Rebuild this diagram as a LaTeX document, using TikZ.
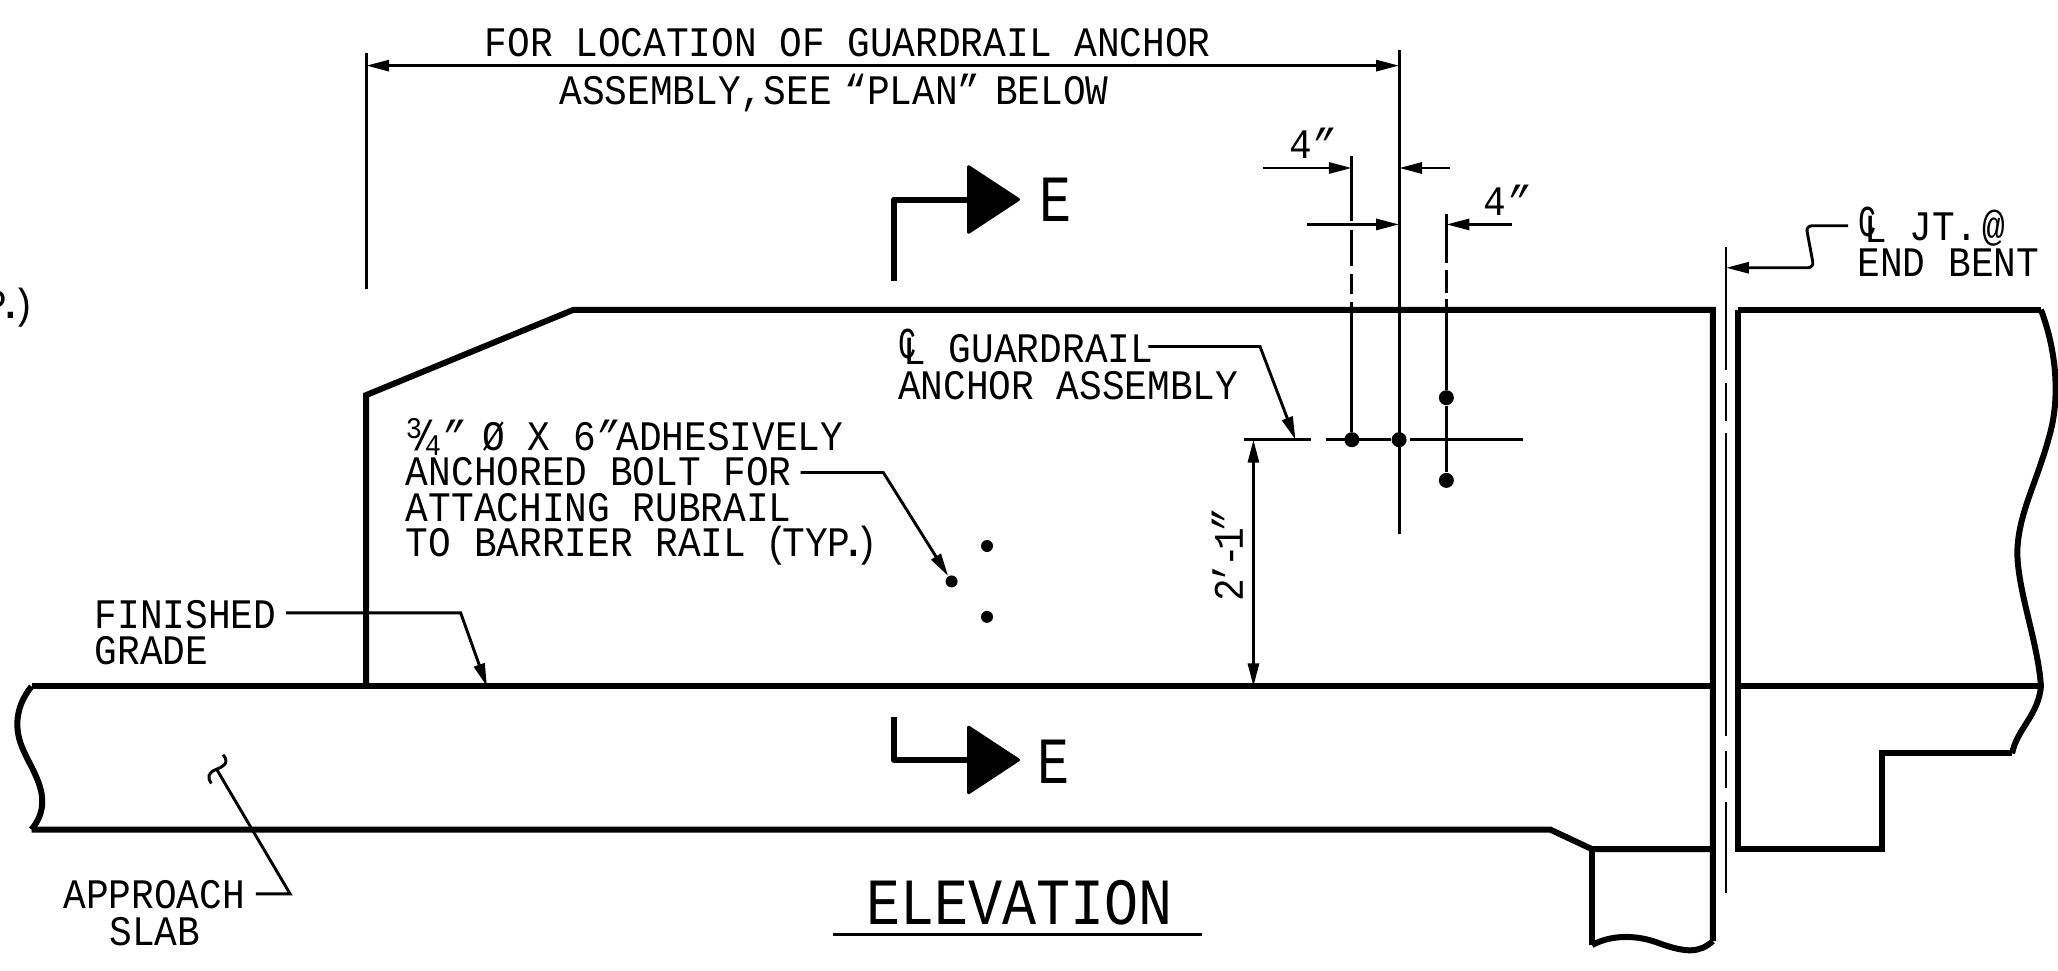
\documentclass[tikz,border=0pt]{standalone}
\usepackage{fontspec}
\usepackage{graphicx}
\setmainfont{Liberation Mono}[FakeStretch=0.9]
\usetikzlibrary{arrows.meta}
\newcommand{\CLmark}{\makebox[0pt][l]{\raisebox{2pt}{\scalebox{0.8}[1.05]{C}}}\raisebox{-1pt}{\kern2.7pt\scalebox{1}[0.95]{L}}}
\newcommand{\threequarter}{\raisebox{6pt}{\fontsize{15}{15}\selectfont 3}\kern-5pt/\kern-5pt\raisebox{-2.5pt}{\fontsize{15}{15}\selectfont 4}}
\newcommand{\typtail}{P\kern-4pt\textbf{.}\kern-5pt)}
\tikzset{
  heavy/.style={line width=3pt,line join=miter},
  thin line/.style={line width=1.45pt},
  tipped/.style={thin line,-{Triangle[length=11.5pt,width=5.5pt]}},
  label/.style={inner sep=0pt,anchor=base west,font=\fontsize{21}{21}\selectfont},
  biglabel/.style={inner sep=0pt,anchor=base west,font=\fontsize{33}{33}\selectfont},
  bolt/.style={circle,fill=black,inner sep=0pt,minimum size=#1},
}
\begin{document}
\begin{tikzpicture}[x=0.65625pt,y=-0.65625pt]
\useasboundingbox (0,0) rectangle (1568,739.8);
% --- outlines
\draw[heavy] (279,523) -- (279,301) -- (437,236) -- (1305,236) -- (1305,717);
\draw[heavy] (24,523) -- (1305,523);
\draw[heavy] (1324,523) -- (1555,523);
\draw[heavy] (1324,236) -- (1555,236);
\draw[heavy] (1324,236) -- (1324,647) -- (1434,647) -- (1434,574) -- (1533,574);
\draw[heavy] (24,632) -- (1181,632) -- (1213,647) -- (1305,647);
\draw[heavy] (1213,647) -- (1213,720);
\draw[heavy] (1213,720) .. controls (1230,711) and (1250,713) .. (1265,719) .. controls (1285,726) and (1295,726) .. (1305,717);
\draw[heavy] (24,523) .. controls (12,538) and (10,555) .. (18,572) .. controls (26,590) and (42,610) .. (24,632);
\draw[heavy] (1555,236) .. controls (1566,265) and (1570,300) .. (1562,330) .. controls (1552,368) and (1538,390) .. (1537,420) .. controls (1537,450) and (1553,490) .. (1555,523) .. controls (1553,545) and (1537,555) .. (1533,574);
% --- centre line of the joint
\draw[thin line] (1315,188) -- (1315,282) (1315,292) -- (1315,321) (1315,330) -- (1315,561) (1315,572) -- (1315,600) (1315,611) -- (1315,680);
% --- section marks
\draw[line width=3pt,line join=round] (681,214) -- (681,152) -- (745,152);
\draw[line width=3pt,line join=round] (681,546) -- (681,579) -- (745,579);
\fill[draw=black,line width=1.5pt,line join=round] (738,127) -- (776,152) -- (738,177) -- cycle;
\fill[draw=black,line width=1.5pt,line join=round] (738,554) -- (776,579) -- (738,604) -- cycle;
\node[biglabel] (eTop) at (792,169) {\scalebox{0.9}[1]{E}};
\node[biglabel] (eBot) at (790,597) {\scalebox{0.9}[1]{E}};
% --- guardrail anchor
\node[bolt=7.5pt] (d1) at (1030,335) {};
\node[bolt=7.5pt] (d2) at (1066,335) {};
\node[bolt=7.5pt] (d3) at (1102,303) {};
\node[bolt=7.5pt] (d4) at (1102,366) {};
\draw[thin line] (1066,38) -- (1066,407);
\draw[thin line] (1030,119) -- (1030,168) (1030,175) -- (1030,203) (1030,209) -- (1030,224) (1030,230) -- (d1);
\draw[thin line] (1102,163) -- (1102,200) (1102,206) -- (1102,223) (1102,228) -- (d3) -- (d4);
\draw[thin line] (948,335) -- (999,335) (1010,335) -- (d2) (1074,335) -- (1160,335);
% --- top dimension
\coordinate (extL) at (279,50);
\coordinate (extR) at (1066,50);
\draw[thin line] (279,40) -- (279,220);
\draw[tipped,{Triangle[length=11.5pt,width=5.5pt]}-{Triangle[length=11.5pt,width=5.5pt]}] (extL) -- (extR);
\node[label] (t1) at (369,43) {FOR LOCATION OF GUARDRAIL ANCHOR};
\node[label] (t2) at (426,79.5) {ASSEMBLY,SEE\kern-5pt\ ``PLAN''\kern-4pt\ BELOW};
% --- 4 inch dimensions
\draw[tipped] (962,128) -- (1030,128);
\draw[tipped] (1105,128) -- (1066,128);
\draw[tipped] (996,171) -- (1066,171);
\draw[tipped] (1152,171) -- (1102,171);
\node[label] (four1) at (982,121) {4\itshape"};
\node[label] (four2) at (1130,164) {4\itshape"};
% --- joint leader
\node[label] (jt1) at (1416,183) {\CLmark{} JT.\kern-9pt\ @};
\node[label] (jt2) at (1415,211) {END BENT};
\coordinate (jtTip) at (1315,204);
\draw[tipped,rounded corners=3pt] (1408,172) -- (1376,172) -- (1382,204) -- (jtTip);
% --- anchor label
\node[label] (cl1) at (684,276) {\CLmark{} GUARDRAIL};
\node[label] (cl2) at (684,304) {ANCHOR ASSEMBLY};
\coordinate (clTip) at (987,335);
\draw[tipped] (875,264) -- (960,264) -- (clTip);
% --- bolts
\node[bolt=6pt] (b1) at (752,416) {};
\node[bolt=6pt] (b2) at (725,443) {};
\node[bolt=6pt] (b3) at (752,470) {};
\node[label] (a1) at (309,343) {\threequarter{\itshape"}\kern-2pt\ Ø X 6{\itshape"}\kern-1pt ADHESIVELY};
\node[label] (a2) at (309,370) {ANCHORED BOLT FOR};
\node[label] (a3) at (309,397) {ATTACHING RUBRAIL};
\node[label] (a4) at (309,424) {TO BARRIER RAIL\kern-1.5pt\ (\kern-3pt TY\typtail};
\draw[tipped] (610,360) -- (673,360) -- (b2);
% --- finished grade
\node[label] (f1) at (72,479) {FINISHED};
\node[label] (f2) at (72,506) {GRADE};
\coordinate (fTip) at (371,523);
\draw[tipped] (218,467) -- (351,467) -- (fTip);
% --- approach slab
\node[label] (s1) at (48,692) {APPROACH};
\node[label] (s2) at (83,720) {SLAB};
\coordinate (sEnd) at (165,586);
\draw[thin line] (195,681) -- (221,681) -- (sEnd);
\draw[thin line] (170,575) .. controls (176,582) and (168,585) .. (165,586) .. controls (158,589) and (158,592) .. (161,597);
% --- two foot dimension
\coordinate (dimTop) at (955,335);
\coordinate (dimBot) at (955,523);
\draw[tipped,{Triangle[length=11.5pt,width=5.5pt]}-{Triangle[length=11.5pt,width=5.5pt]}] (dimTop) -- (dimBot);
\node[label,rotate=90] (dim) at (947,458.5) {2\kern-2.8pt'\kern-2.8pt-\kern-2.8pt 1\kern-2.8pt{\itshape"}};
% --- title
\node[biglabel] (title) at (660,704) {\scalebox{0.955}[1]{ELEVATION}};
\draw[thin line] (635,712) -- (916,712);
% --- cut-off note at the left edge
\node[inner sep=0pt,anchor=base east,font=\fontsize{21}{21}\selectfont] (cut) at (27,243) {\typtail};
\end{tikzpicture}
\end{document}
